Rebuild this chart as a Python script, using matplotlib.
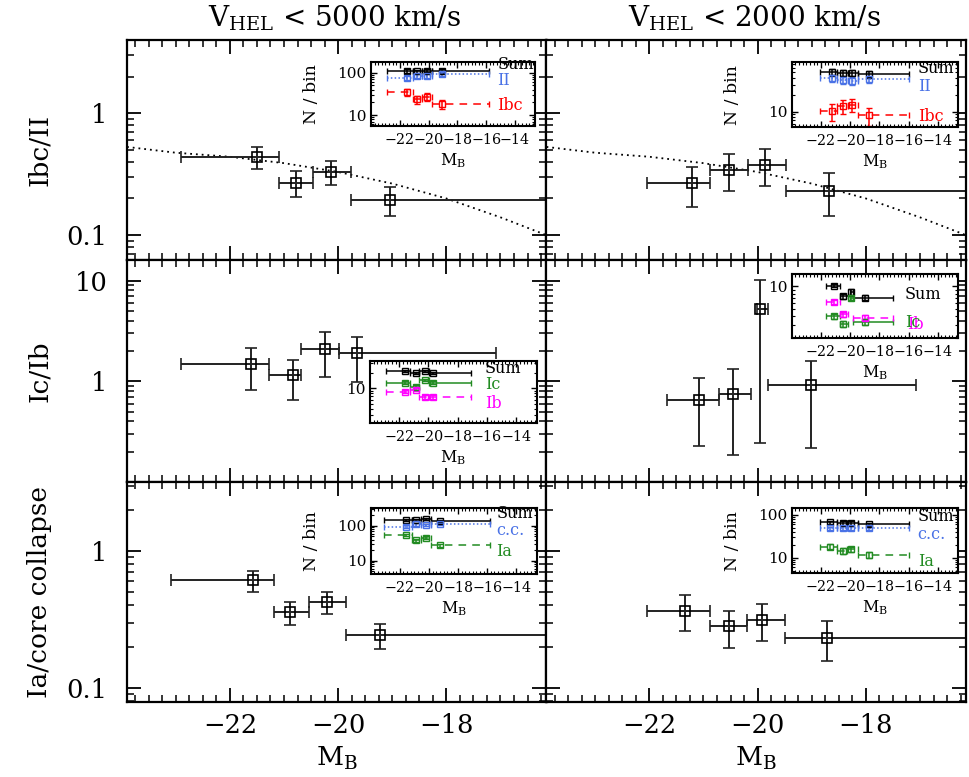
import numpy as np
import matplotlib
matplotlib.use('Agg')
import matplotlib.pyplot as plt
from matplotlib.ticker import MultipleLocator, LogLocator, NullFormatter, FuncFormatter, FixedLocator

plt.rcParams['font.family'] = ['DejaVu Serif']
plt.rcParams['mathtext.fontset'] = 'dejavuserif'

# ---------------- data ----------------
# main panels: bin centre, bin low, bin high, ratio, ratio low, ratio high
tl_x = np.array([-21.49, -20.77, -20.14, -19.05])
tl_xlo = np.array([-22.90, -21.09, -20.47, -19.77])
tl_xhi = np.array([-21.09, -20.47, -19.77, -15.80])
tl_y = np.array([0.44, 0.269, 0.331, 0.196])
tl_ylo = np.array([0.346, 0.206, 0.259, 0.143])
tl_yhi = np.array([0.53, 0.334, 0.408, 0.249])

tr_x = np.array([-21.22, -20.52, -19.87, -18.69])
tr_xlo = np.array([-22.04, -20.88, -20.17, -19.48])
tr_xhi = np.array([-20.88, -20.17, -19.48, -16.00])
tr_y = np.array([0.266, 0.342, 0.38, 0.231])
tr_ylo = np.array([0.171, 0.230, 0.254, 0.143])
tr_yhi = np.array([0.364, 0.463, 0.506, 0.321])

ml_x = np.array([-21.60, -20.84, -20.25, -19.66])
ml_xlo = np.array([-22.90, -21.28, -20.68, -19.99])
ml_xhi = np.array([-21.28, -20.68, -19.99, -17.08])
ml_y = np.array([1.49, 1.15, 2.10, 1.89])
ml_ylo = np.array([0.82, 0.645, 1.11, 0.99])
ml_yhi = np.array([2.13, 1.63, 3.07, 2.76])

mr_x = np.array([-21.09, -20.46, -19.95, -19.01])
mr_xlo = np.array([-21.67, -20.72, -20.02, -19.80])
mr_xhi = np.array([-20.72, -20.13, -19.80, -17.07])
mr_y = np.array([0.65, 0.75, 5.18, 0.91])
mr_ylo = np.array([0.229, 0.186, 0.243, 0.217])
mr_yhi = np.array([1.07, 1.33, 10.2, 1.60])

bl_x = np.array([-21.58, -20.89, -20.20, -19.23])
bl_xlo = np.array([-23.09, -21.18, -20.53, -19.85])
bl_xhi = np.array([-21.18, -20.53, -19.85, -15.80])
bl_y = np.array([0.617, 0.356, 0.427, 0.241])
bl_ylo = np.array([0.505, 0.288, 0.347, 0.193])
bl_yhi = np.array([0.718, 0.421, 0.499, 0.291])

br_x = np.array([-21.35, -20.52, -19.91, -18.71])
br_xlo = np.array([-22.04, -20.88, -20.20, -19.49])
br_xhi = np.array([-20.88, -20.20, -19.49, -16.00])
br_y = np.array([0.367, 0.282, 0.315, 0.232])
br_ylo = np.array([0.262, 0.195, 0.221, 0.156])
br_yhi = np.array([0.477, 0.367, 0.412, 0.306])

# dotted model curve (top row)
curve_x = [-23.9, -23.0, -22.0, -21.0, -20.0, -19.0, -18.0, -17.0, -16.15]
curve_y = [0.53, 0.475, 0.44, 0.39, 0.33, 0.265, 0.20, 0.14, 0.10]

# inset counts (N / bin) and their errors
tl_sum = np.array([110, 108, 112, 110]); tl_sum_e = np.array([10, 10, 10, 10])
tl_ii = np.array([76, 85, 85, 92]);      tl_ii_e = np.array([8.7, 9.2, 9.2, 9.6])
tl_ibc = np.array([34.4, 23.5, 27.1, 17.9]); tl_ibc_e = np.array([5.9, 4.8, 5.2, 4.2])

tr_sum = np.array([49.5, 49.1, 48.7, 46.6]); tr_sum_e = np.array([6.5, 6.5, 6.5, 6.5])
tr_ii = np.array([39.1, 36.5, 35.4, 37.9]);  tr_ii_e = np.array([5.5, 5.5, 5.5, 5.5])
tr_ibc = np.array([10.4, 12.6, 13.3, 8.7]);  tr_ibc_e = np.array([3.5, 3.6, 3.6, 3.0])

ml_sum = np.array([21.4, 20.0, 21.3, 19.6]); ml_sum_e = np.array([1.0, 1.0, 1.0, 1.0])
ml_ic = np.array([12.8, 10.7, 14.4, 12.8]);  ml_ic_e = np.array([0.8, 0.8, 0.8, 0.8])
ml_ib = np.array([8.6, 9.3, 6.9, 6.8]);      ml_ib_e = np.array([0.6, 0.6, 0.6, 0.6])

mr_sum = np.array([10.2, 7.35, 8.4, 7.1]); mr_sum_e = np.array([0.5, 0.5, 0.9, 0.5])
mr_ic = np.array([3.98, 3.15, 7.0, 3.31]); mr_ic_e = np.array([0.3, 0.3, 0.4, 0.3])
mr_ib = np.array([6.2, 4.2, 1.35, 3.8]);   mr_ib_e = np.array([0.4, 0.3, 0.1, 0.3])

bl_sum = np.array([149, 149, 151, 140]); bl_sum_e = np.array([10, 10, 10, 10])
bl_cc = np.array([93.6, 110, 105, 112]); bl_cc_e = np.array([8, 9, 9, 9])
bl_ia = np.array([55, 39, 46, 28]);      bl_ia_e = np.array([4, 4, 4, 3])

br_sum = np.array([66.7, 64.2, 65.5, 60.2]); br_sum_e = np.array([6, 6, 6, 6])
br_cc = np.array([48.6, 49.8, 49.8, 48.6]);  br_cc_e = np.array([5, 5, 5, 5])
br_ia = np.array([18.1, 14.4, 15.7, 11.6]);  br_ia_e = np.array([2.5, 2.2, 2.3, 2.0])

inset_xticks = [-22, -20, -18, -16, -14]
titles = [r'V$_{\rm HEL}$ < 5000 km/s', r'V$_{\rm HEL}$ < 2000 km/s']
row_labels = ['Ibc/II', 'Ic/Ib', 'Ia/core collapse']

# ---------------- style ----------------
BLUE = '#4a72e6'
RED = '#ff0000'
GREEN = '#228b22'
MAG = '#ff00ff'

W, H = 970, 777
fig = plt.figure(figsize=(W / 100, H / 100), dpi=100)


def rect_px(x0, x1, y0, y1):
    return [x0 / W, 1 - y1 / H, (x1 - x0) / W, (y1 - y0) / H]


col_px = [(127, 546.5), (546.5, 966)]
row_px = [(40, 260), (260, 482), (482, 701.7)]
ylims = [(0.0625, 4.0), (0.1, 16.0), (0.079, 3.2)]

main = [[(tl_x, tl_xlo, tl_xhi, tl_y, tl_ylo, tl_yhi), (tr_x, tr_xlo, tr_xhi, tr_y, tr_ylo, tr_yhi)],
        [(ml_x, ml_xlo, ml_xhi, ml_y, ml_ylo, ml_yhi), (mr_x, mr_xlo, mr_xhi, mr_y, mr_ylo, mr_yhi)],
        [(bl_x, bl_xlo, bl_xhi, bl_y, bl_ylo, bl_yhi), (br_x, br_xlo, br_xhi, br_y, br_ylo, br_yhi)]]


def make_fmt(lo, hi):
    def f(v, p):
        if v <= lo * 1.02 or v >= hi / 1.02:
            return ''
        return '%g' % v
    return FuncFormatter(f)


for r in range(3):
    for c in range(2):
        ax = fig.add_axes(rect_px(col_px[c][0], col_px[c][1], row_px[r][0], row_px[r][1]))
        x, xlo, xhi, y, ylo, yhi = main[r][c]
        if r == 0:
            ax.plot(curve_x, curve_y, color='k', ls=(0, (1, 2.2)), lw=1.3)
        ax.errorbar(x, y, xerr=[x - xlo, xhi - x], yerr=[y - ylo, yhi - y],
                    fmt='s', ms=6.5, mfc='none', mec='k', mew=1.2, color='k',
                    ecolor='#222222', elinewidth=1.4, capsize=4, capthick=1.4)
        ax.set_yscale('log')
        ax.set_xlim(-23.9, -16.15)
        ax.set_ylim(*ylims[r])
        ax.xaxis.set_major_locator(MultipleLocator(2))
        ax.xaxis.set_minor_locator(MultipleLocator(0.25))
        ax.yaxis.set_major_locator(LogLocator(base=10))
        ax.yaxis.set_minor_locator(LogLocator(base=10, subs=np.arange(2, 10)))
        ax.yaxis.set_minor_formatter(NullFormatter())
        ax.tick_params(which='both', direction='in', top=True, right=True)
        ax.tick_params(which='major', length=10, width=1.3)
        ax.tick_params(which='minor', length=5, width=1.1)
        ax.tick_params(axis='y', pad=14, labelsize=18.5)
        ax.tick_params(axis='x', pad=8, labelsize=18.5)
        for s in ax.spines.values():
            s.set_linewidth(1.6)
        if c == 0:
            ax.yaxis.set_major_formatter(make_fmt(*ylims[r]))
        else:
            ax.yaxis.set_major_formatter(NullFormatter())
        if r == 2:
            ax.set_xlabel(r'M$_{\rm B}$', fontsize=19, labelpad=5)
        else:
            ax.xaxis.set_major_formatter(NullFormatter())
        if r == 0:
            fig.text((col_px[c][0] + col_px[c][1]) / 2 / W - 0.002, 1 - 18 / H, titles[c],
                     ha='center', va='center', fontsize=20)
        if c == 0:
            fig.text(40 / W, 1 - (row_px[r][0] + row_px[r][1]) / 2 / H, row_labels[r],
                     rotation=90, ha='center', va='center', fontsize=19)

# ---------------- insets ----------------
insets = [
    dict(rect=(371, 535, 61.7, 125.7), ylim=(5.6, 182), x=(tl_x, tl_xlo, tl_xhi), nbin=True,
         series=[(tl_sum, tl_sum_e, 'k', '-'), (tl_ii, tl_ii_e, BLUE, ':'), (tl_ibc, tl_ibc_e, RED, '--')],
         labels=[('Sum', 'k', 0.77, 0.96), ('II', BLUE, 0.77, 0.70), ('Ibc', RED, 0.77, 0.31)]),
    dict(rect=(791.7, 958.3, 62.3, 127.3), ylim=(5.3, 75), x=(tr_x, tr_xlo, tr_xhi), nbin=True,
         series=[(tr_sum, tr_sum_e, 'k', '-'), (tr_ii, tr_ii_e, BLUE, ':'), (tr_ibc, tr_ibc_e, RED, '--')],
         labels=[('Sum', 'k', 0.756, 0.91), ('II', BLUE, 0.756, 0.63), ('Ibc', RED, 0.756, 0.17)]),
    dict(rect=(370, 536.7, 361, 423.3), ylim=(2.1, 33.5), x=(ml_x, ml_xlo, ml_xhi), nbin=False,
         series=[(ml_sum, ml_sum_e, 'k', '-'), (ml_ic, ml_ic_e, GREEN, '-'), (ml_ib, ml_ib_e, MAG, '--')],
         labels=[('Sum', 'k', 0.69, 0.88), ('Ic', GREEN, 0.69, 0.62), ('Ib', MAG, 0.69, 0.32)]),
    dict(rect=(791.7, 958.3, 274.3, 338.3), ylim=(2.0, 14.6), x=(mr_x, mr_xlo, mr_xhi), nbin=False,
         series=[(mr_sum, mr_sum_e, 'k', '-'), (mr_ic, mr_ic_e, GREEN, '-'), (mr_ib, mr_ib_e, MAG, '--')],
         labels=[('Sum', 'k', 0.68, 0.69), ('Ib', MAG, 0.695, 0.22), ('Ic', GREEN, 0.68, 0.24)]),
    dict(rect=(370.7, 536.7, 508.3, 574), ylim=(4.2, 314), x=(bl_x, bl_xlo, bl_xhi), nbin=True,
         series=[(bl_sum, bl_sum_e, 'k', '-'), (bl_cc, bl_cc_e, BLUE, ':'), (bl_ia, bl_ia_e, GREEN, '--')],
         labels=[('Sum', 'k', 0.757, 0.92), ('c.c.', BLUE, 0.757, 0.66), ('Ia', GREEN, 0.757, 0.35)]),
    dict(rect=(791.7, 958.3, 508.3, 573.3), ylim=(4.3, 143), x=(br_x, br_xlo, br_xhi), nbin=True,
         series=[(br_sum, br_sum_e, 'k', '-'), (br_cc, br_cc_e, BLUE, ':'), (br_ia, br_ia_e, GREEN, '--')],
         labels=[('Sum', 'k', 0.756, 0.87), ('c.c.', BLUE, 0.756, 0.60), ('Ia', GREEN, 0.756, 0.18)]),
]

dash_styles = {'-': '-', ':': (0, (1, 1.5)), '--': (0, (5, 4))}

for ins in insets:
    x0, x1, y0, y1 = ins['rect']
    ax = fig.add_axes(rect_px(x0, x1, y0, y1))
    x, xlo, xhi = ins['x']
    for vals, errs, col, ls in ins['series']:
        eb = ax.errorbar(x, vals, xerr=[x - xlo, xhi - x], yerr=errs,
                         fmt='s', ms=3.8, mfc='none', mec=col, mew=1.0, color=col,
                         ecolor=col, elinewidth=1.1, capsize=2, capthick=1.0)
        eb[2][0].set_linestyle(dash_styles[ls])
    ax.set_yscale('log')
    ax.set_xlim(-24, -12.6)
    ax.set_ylim(*ins['ylim'])
    ax.xaxis.set_major_locator(FixedLocator(inset_xticks))
    ax.xaxis.set_minor_locator(MultipleLocator(0.25))
    ax.yaxis.set_major_locator(LogLocator(base=10))
    ax.yaxis.set_minor_locator(LogLocator(base=10, subs=np.arange(2, 10)))
    ax.yaxis.set_minor_formatter(NullFormatter())
    ax.yaxis.set_major_formatter(FuncFormatter(lambda v, p: '%g' % v))
    ax.tick_params(which='both', direction='in', top=True, right=True)
    ax.tick_params(which='major', length=4, width=1.0)
    ax.tick_params(which='minor', length=2.2, width=0.8)
    ax.tick_params(axis='x', pad=5, labelsize=10.3)
    ax.tick_params(axis='y', pad=3, labelsize=11)
    for s in ax.spines.values():
        s.set_linewidth(1.5)
    ax.set_xlabel(r'M$_{\rm B}$', fontsize=11.5, labelpad=3)
    for txt, col, fx, fy in ins['labels']:
        ax.text(fx, fy, txt, color=col, transform=ax.transAxes, fontsize=11.5,
                ha='left', va='center', clip_on=False)
    if ins['nbin']:
        fig.text((x0 - 59) / W, 1 - (y0 + y1) / 2 / H, 'N / bin', rotation=90,
                 ha='center', va='center', fontsize=12.5)

fig.savefig('out.png', dpi=100)
